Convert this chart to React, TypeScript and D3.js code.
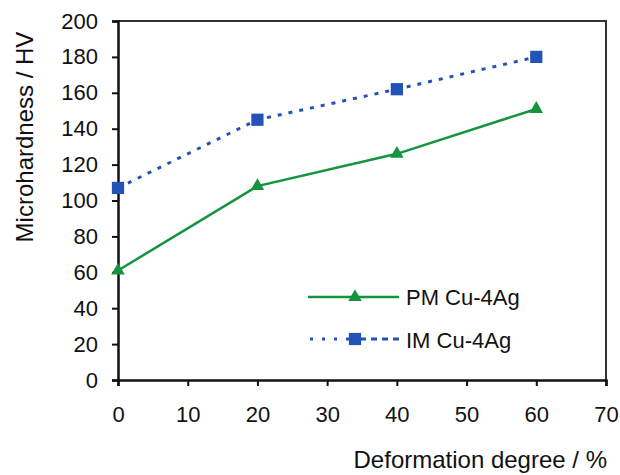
import React, { useRef, useEffect } from "react";
import * as d3 from "d3";

const deformation = [0, 20, 40, 60];
const pmValues = [61, 108, 126, 151];
const imValues = [107, 145, 162, 180];
const xTicks = [0, 10, 20, 30, 40, 50, 60, 70];
const yTicks = [0, 20, 40, 60, 80, 100, 120, 140, 160, 180, 200];

const GREEN = "#15943e";
const BLUE = "#2453b8";
const FONT = "'Liberation Sans', Arial, sans-serif";

function HardnessChart() {
  const svgRef = useRef<SVGSVGElement>(null);

  useEffect(() => {
    const svg = d3.select(svgRef.current);
    svg.selectAll("*").remove();

    const left = 118, right = 606, top = 21, bottom = 380;
    const x = d3.scaleLinear().domain([0, 70]).range([left, right]);
    const y = d3.scaleLinear().domain([0, 200]).range([bottom, top]);

    // frame (top and right)
    svg.append("path")
      .attr("d", `M${left},${top}H${right}V${bottom}`)
      .attr("fill", "none")
      .attr("stroke", "#333")
      .attr("stroke-width", 2);

    // axes
    const xAxis = svg.append("g")
      .attr("transform", `translate(0,${bottom})`)
      .call(d3.axisBottom(x).tickValues(xTicks).tickSize(6).tickPadding(20));
    const yAxis = svg.append("g")
      .attr("transform", `translate(${left},0)`)
      .call(d3.axisLeft(y).tickValues(yTicks).tickSize(6).tickPadding(14));

    [xAxis, yAxis].forEach((g) => {
      g.select(".domain").attr("stroke", "#111").attr("stroke-width", 2.5);
      g.selectAll(".tick line").attr("stroke", "#111").attr("stroke-width", 2);
      g.selectAll(".tick text")
        .attr("fill", "#111")
        .style("font-family", FONT)
        .style("font-size", "22px");
    });

    const line = d3.line<number>()
      .x((_, i) => x(deformation[i]))
      .y((d) => y(d));

    // IM series
    svg.append("path")
      .datum(imValues)
      .attr("d", line)
      .attr("fill", "none")
      .attr("stroke", BLUE)
      .attr("stroke-width", 3)
      .attr("stroke-dasharray", "4,7");

    // PM series
    svg.append("path")
      .datum(pmValues)
      .attr("d", line)
      .attr("fill", "none")
      .attr("stroke", GREEN)
      .attr("stroke-width", 2.5);

    const tri = d3.symbol().type(d3.symbolTriangle).size(80);
    const sq = d3.symbol().type(d3.symbolSquare).size(150);

    svg.selectAll(".im-pt")
      .data(imValues)
      .enter()
      .append("path")
      .attr("transform", (d, i) => `translate(${x(deformation[i])},${y(d)})`)
      .attr("d", sq)
      .attr("fill", BLUE);

    svg.selectAll(".pm-pt")
      .data(pmValues)
      .enter()
      .append("path")
      .attr("transform", (d, i) => `translate(${x(deformation[i])},${y(d)})`)
      .attr("d", tri)
      .attr("fill", GREEN);

    // legend
    const leg = svg.append("g");
    leg.append("line")
      .attr("x1", 308).attr("x2", 399).attr("y1", 297).attr("y2", 297)
      .attr("stroke", GREEN).attr("stroke-width", 2.5);
    leg.append("path")
      .attr("transform", "translate(355,297)")
      .attr("d", tri)
      .attr("fill", GREEN);
    // dotted part, then dashed part, like the original key
    leg.append("line")
      .attr("x1", 310).attr("x2", 350).attr("y1", 339).attr("y2", 339)
      .attr("stroke", BLUE).attr("stroke-width", 3)
      .attr("stroke-dasharray", "3,9");
    leg.append("line")
      .attr("x1", 360).attr("x2", 399).attr("y1", 339).attr("y2", 339)
      .attr("stroke", BLUE).attr("stroke-width", 3)
      .attr("stroke-dasharray", "6,5");
    leg.append("path")
      .attr("transform", "translate(355,339)")
      .attr("d", sq)
      .attr("fill", BLUE);
    leg.selectAll("text")
      .data(["PM Cu-4Ag", "IM Cu-4Ag"])
      .enter()
      .append("text")
      .attr("x", 406)
      .attr("y", (_, i) => 305 + i * 43)
      .attr("fill", "#111")
      .style("font-family", FONT)
      .style("font-size", "22px")
      .text((d) => d);

    // axis titles
    svg.append("text")
      .attr("transform", "translate(33,137) rotate(-90)")
      .attr("text-anchor", "middle")
      .attr("fill", "#111")
      .style("font-family", FONT)
      .style("font-size", "24px")
      .text("Microhardness / HV");

    svg.append("text")
      .attr("x", 607)
      .attr("y", 468)
      .attr("text-anchor", "end")
      .attr("fill", "#111")
      .style("font-family", FONT)
      .style("font-size", "24px")
      .text("Deformation degree / %");
  }, []);

  return (
    <svg
      ref={svgRef}
      width={620}
      height={475}
      style={{ position: "fixed", left: 0, top: 0, background: "#fff" }}
    />
  );
}

export default function App() {
  return <HardnessChart />;
}
